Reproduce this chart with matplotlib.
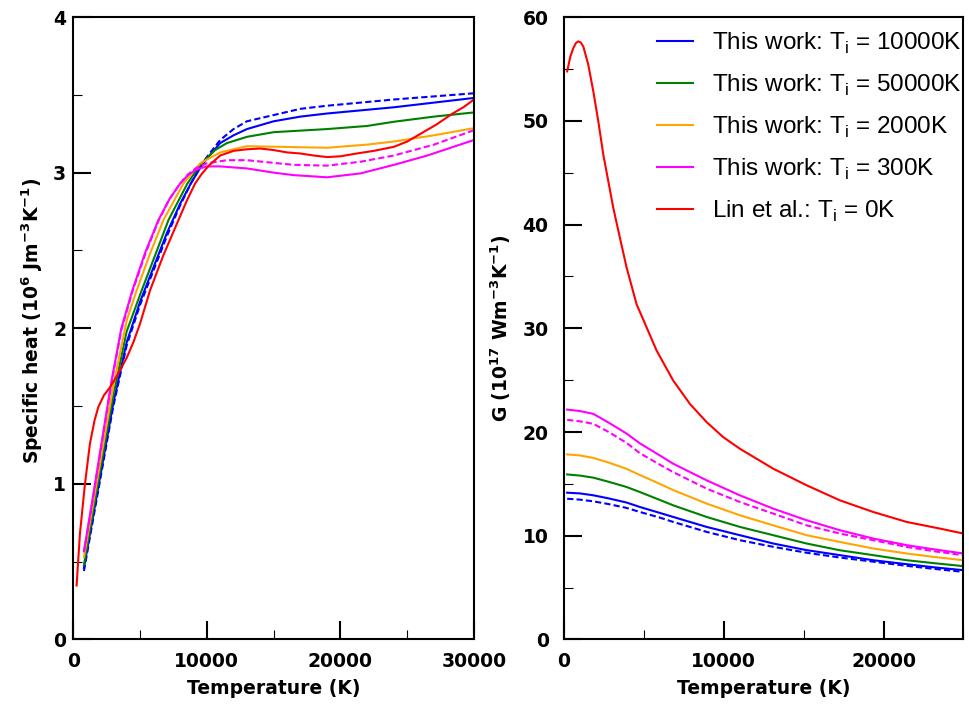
import numpy as np
import matplotlib
matplotlib.use("Agg")
import matplotlib.pyplot as plt
from matplotlib.ticker import MultipleLocator

# ---- left panel: specific heat (10^6 J m^-3 K^-1) vs temperature (K)
t_blue = [800, 1500, 2000, 3000, 4000, 5000, 6000, 7000, 8000, 8800, 9500, 10000,
          11000, 12000, 13000, 15000, 17000, 19000, 21500, 24000, 27000, 30000]
c_blue = [0.46, 0.80, 1.04, 1.52, 1.91, 2.17, 2.39, 2.61, 2.80, 2.93, 3.03, 3.09,
          3.19, 3.24, 3.28, 3.33, 3.36, 3.38, 3.40, 3.42, 3.45, 3.48]
t_blue_d = [800, 1500, 2000, 3000, 4000, 5000, 6000, 7000, 8000, 8800, 9500, 10000,
            11000, 12000, 13000, 15000, 17000, 19000, 21500, 24000, 27000, 30000]
c_blue_d = [0.44, 0.78, 1.02, 1.50, 1.89, 2.15, 2.37, 2.59, 2.79, 2.93, 3.04, 3.10,
            3.21, 3.28, 3.33, 3.37, 3.41, 3.43, 3.45, 3.47, 3.49, 3.51]
t_green = [800, 1500, 2000, 3000, 4000, 5125, 6000, 7125, 8545, 9500, 10620,
           11500, 13000, 15000, 19000, 22000, 24000, 27000, 30000]
c_green = [0.48, 0.83, 1.08, 1.57, 1.98, 2.244, 2.44, 2.695, 2.93, 3.05, 3.145,
           3.19, 3.23, 3.26, 3.28, 3.30, 3.327, 3.36, 3.387]
t_orange = [800, 1500, 2000, 3000, 4000, 4750, 5750, 6750, 8245, 9500, 11000,
            13000, 16000, 19000, 22000, 24000, 27000, 30000]
c_orange = [0.53, 0.88, 1.13, 1.63, 2.05, 2.244, 2.48, 2.695, 2.93, 3.06, 3.13,
            3.17, 3.165, 3.16, 3.18, 3.20, 3.24, 3.286]
t_mag = [800, 1500, 2000, 2875, 3600, 4425, 5400, 6375, 7200, 8000, 8600, 9200,
         10000, 11000, 13000, 15000, 16500, 19000, 21500, 24000, 26500, 30000]
c_mag = [0.57, 0.93, 1.20, 1.666, 2.00, 2.244, 2.49, 2.695, 2.83, 2.93, 2.985, 3.02,
         3.04, 3.04, 3.027, 3.00, 2.984, 2.97, 2.995, 3.05, 3.11, 3.21]
t_mag_d = [800, 1500, 2000, 2875, 3600, 4425, 5400, 6375, 7200, 8000, 8600, 9200,
           10000, 11500, 13000, 16500, 19000, 21500, 24000, 27000, 30000]
c_mag_d = [0.56, 0.92, 1.19, 1.655, 1.99, 2.235, 2.48, 2.69, 2.83, 2.93, 2.99, 3.03,
           3.06, 3.08, 3.08, 3.05, 3.045, 3.07, 3.11, 3.18, 3.273]
t_lin = [250, 500, 877, 1250, 1600, 1875, 2300, 2750, 3100, 3500, 4000, 4500, 5000,
         5750, 6750, 7875, 8500, 9120, 9600, 10200, 11000, 12000, 13000, 14000,
         15000, 16000, 17000, 18000, 19000, 20000, 21000, 22500, 24000, 25000,
         26000, 27200, 28400, 29200, 30000]
c_lin = [0.347, 0.68, 1.00, 1.26, 1.41, 1.494, 1.57, 1.62, 1.67, 1.73, 1.81, 1.91,
         2.03, 2.244, 2.47, 2.695, 2.82, 2.93, 2.99, 3.05, 3.11, 3.14, 3.15, 3.155,
         3.145, 3.13, 3.123, 3.11, 3.10, 3.105, 3.12, 3.14, 3.166, 3.20, 3.25, 3.31,
         3.38, 3.42, 3.47]

# ---- right panel: G (10^17 W m^-3 K^-1) vs temperature (K)
tg = [200, 1000, 1835, 2800, 3920, 4756, 6000, 6840, 8930, 11014, 13100, 15190,
      17270, 19355, 21445, 23200, 25000]
g_blue = [14.15, 14.08, 13.90, 13.60, 13.20, 12.77, 12.20, 11.81, 10.85, 10.05,
          9.25, 8.61, 8.13, 7.64, 7.26, 6.95, 6.68]
g_blue_d = [13.57, 13.48, 13.32, 13.05, 12.68, 12.29, 11.75, 11.33, 10.37, 9.57,
            8.93, 8.36, 7.90, 7.50, 7.10, 6.80, 6.52]
g_green = [15.91, 15.80, 15.60, 15.20, 14.70, 14.21, 13.45, 12.93, 11.81, 10.85,
           10.05, 9.25, 8.60, 8.13, 7.64, 7.35, 7.07]
g_orange = [17.84, 17.74, 17.50, 17.05, 16.45, 15.85, 15.00, 14.40, 13.10, 11.97,
            11.00, 10.05, 9.40, 8.77, 8.29, 7.95, 7.64]
g_mag = [22.16, 22.02, 21.75, 20.90, 19.85, 18.90, 17.74, 16.94, 15.34, 13.89,
         12.61, 11.49, 10.53, 9.73, 9.09, 8.68, 8.29]
g_mag_d = [21.17, 21.03, 20.79, 20.00, 18.95, 17.95, 16.85, 16.13, 14.54, 13.25,
           12.13, 11.00, 10.21, 9.57, 8.92, 8.50, 8.12]
tg_lin = [200, 400, 584, 750, 896, 1050, 1210, 1523, 1836, 2149, 2461, 2774, 3087,
          3504, 3921, 4547, 5000, 5800, 6840, 7885, 8930, 9970, 11014, 13100,
          15190, 17270, 19355, 21445, 23530, 25000]
g_lin = [54.76, 56.2, 57.0, 57.5, 57.65, 57.55, 57.16, 55.4, 52.84, 49.95, 46.75,
         44.18, 41.6, 38.7, 35.85, 32.3, 30.7, 27.84, 24.95, 22.7, 20.95, 19.5,
         18.38, 16.46, 14.86, 13.41, 12.29, 11.33, 10.69, 10.21]

labels = [r"This work: T$_\mathregular{i}$ = 10000K",
          r"This work: T$_\mathregular{i}$ = 50000K",
          r"This work: T$_\mathregular{i}$ = 2000K",
          r"This work: T$_\mathregular{i}$ = 300K",
          r"Lin et al.: T$_\mathregular{i}$ = 0K"]

BLUE, GREEN, ORANGE, MAG, RED = "#0000ff", "#008000", "#ffa500", "#ff00ff", "#ff0000"
LW = 1.5
DASH = (0, (3, 1.5))

tickfont = {"family": "DejaVu Sans", "weight": "bold", "size": 13.5}
labelfont = {"family": "DejaVu Sans", "weight": "bold", "size": 13.5}

fig = plt.figure(figsize=(9.69, 7.15), dpi=100)
ax1 = fig.add_axes([0.0756, 0.1056, 0.4136, 0.8706])
ax2 = fig.add_axes([0.582, 0.1056, 0.4123, 0.8706])

ax1.plot(t_blue, c_blue, color=BLUE, lw=LW)
ax1.plot(t_blue_d, c_blue_d, color=BLUE, lw=LW, ls=DASH)
ax1.plot(t_green, c_green, color=GREEN, lw=LW)
ax1.plot(t_orange, c_orange, color=ORANGE, lw=LW)
ax1.plot(t_mag, c_mag, color=MAG, lw=LW)
ax1.plot(t_mag_d, c_mag_d, color=MAG, lw=LW, ls=DASH)
ax1.plot(t_lin, c_lin, color=RED, lw=LW)

h = []
h += ax2.plot(tg, g_blue, color=BLUE, lw=LW)
ax2.plot(tg, g_blue_d, color=BLUE, lw=LW, ls=DASH)
h += ax2.plot(tg, g_green, color=GREEN, lw=LW)
h += ax2.plot(tg, g_orange, color=ORANGE, lw=LW)
h += ax2.plot(tg, g_mag, color=MAG, lw=LW)
ax2.plot(tg, g_mag_d, color=MAG, lw=LW, ls=DASH)
h += ax2.plot(tg_lin, g_lin, color=RED, lw=LW)

ax1.set_xlim(0, 30000)
ax1.set_ylim(0, 4)
ax1.xaxis.set_major_locator(MultipleLocator(10000))
ax1.xaxis.set_minor_locator(MultipleLocator(5000))
ax1.yaxis.set_major_locator(MultipleLocator(1))
ax1.yaxis.set_minor_locator(MultipleLocator(0.5))

ax2.set_xlim(0, 25000)
ax2.set_ylim(0, 60)
ax2.set_xticks([0, 10000, 20000])
ax2.xaxis.set_minor_locator(MultipleLocator(5000))
ax2.yaxis.set_major_locator(MultipleLocator(10))
ax2.yaxis.set_minor_locator(MultipleLocator(5))

for ax, ypad in ((ax1, 5), (ax2, 11)):
    for s in ax.spines.values():
        s.set_linewidth(1.5)
    ax.tick_params(which="major", direction="in", length=13, width=1.5)
    ax.tick_params(which="minor", direction="in", length=6.5, width=0.8)
    ax.tick_params(axis="x", which="major", pad=9)
    ax.tick_params(axis="y", which="major", pad=ypad)
    for lab in ax.get_xticklabels() + ax.get_yticklabels():
        lab.set_fontproperties(tickfont)
    ax.set_xlabel("Temperature (K)", fontdict=labelfont, labelpad=6)

fig.text(0.033, 0.552, r"Specific heat (10$^\mathregular{6}$ Jm$^\mathregular{-3}$K$^\mathregular{-1}$)",
         rotation=90, ha="center", va="center", fontdict=labelfont)
fig.text(0.517, 0.541, r"G (10$^\mathregular{17}$ Wm$^\mathregular{-3}$K$^\mathregular{-1}$)",
         rotation=90, ha="center", va="center", fontdict=labelfont)

fig.legend(h, labels, loc="upper left", bbox_to_anchor=(0.678, 0.957),
           frameon=False, borderpad=0, borderaxespad=0, handlelength=1.47,
           handletextpad=0.78, labelspacing=0.69,
           prop={"family": "Liberation Sans", "size": 17.5})

fig.savefig("out.png", dpi=100)
